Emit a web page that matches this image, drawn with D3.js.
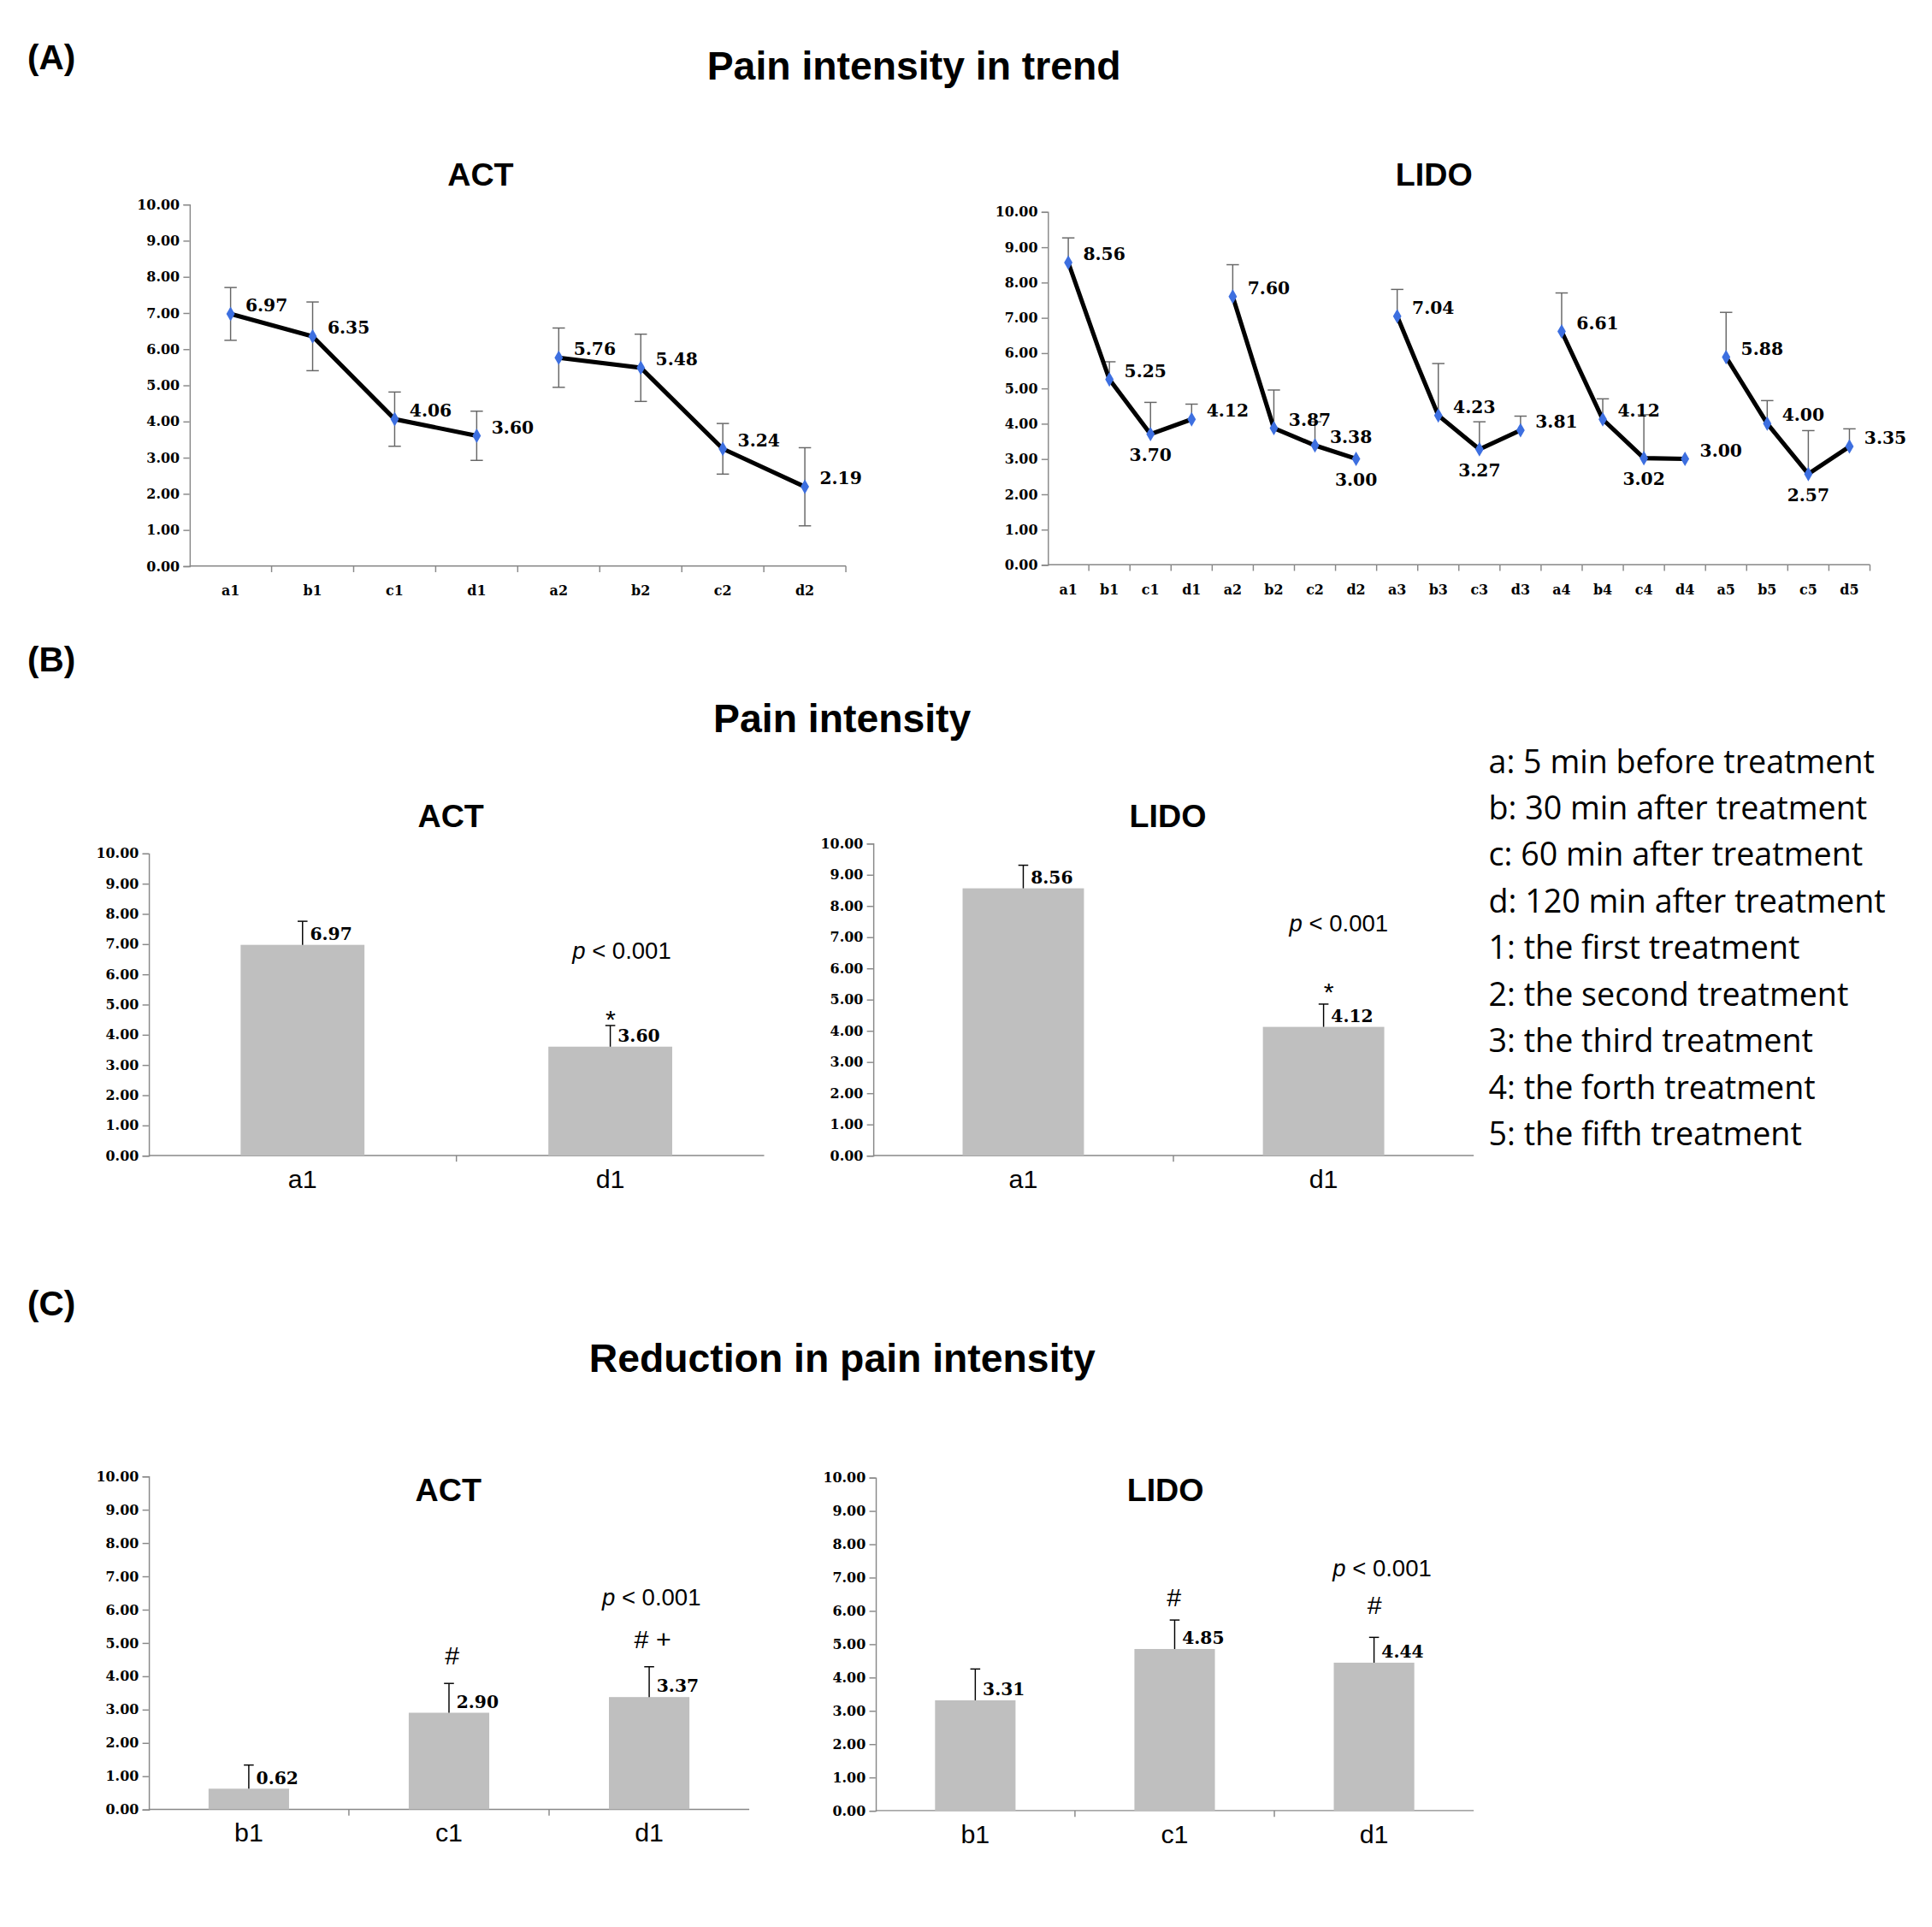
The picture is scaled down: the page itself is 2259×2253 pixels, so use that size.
<!doctype html>
<html><head><meta charset="utf-8">
<script src="https://cdnjs.cloudflare.com/ajax/libs/d3/7.8.5/d3.min.js"></script>
<style>
  body { margin: 0; background: #fff; }
  .tick-lab { font-family: "DejaVu Serif", serif; font-weight: bold; font-size: 11px; }
  .val { font-family: "DejaVu Serif", serif; font-weight: bold; font-size: 14px; }
  .cat { font-family: "Liberation Sans", Arial, sans-serif; font-size: 21px; }
  .title { font-family: "Liberation Sans", Arial, sans-serif; font-weight: bold; }
</style></head>
<body>
<script>
// --- data ---
const yTicks = [0,1,2,3,4,5,6,7,8,9,10]
const actTrendCats = ['a1','b1','c1','d1','a2','b2','c2','d2']
const actTrendVals = [6.97,6.35,4.06,3.60,5.76,5.48,3.24,2.19]
const actTrendErr  = [0.73,0.95,0.75,0.68,0.82,0.93,0.70,1.08]
const lidoTrendCats = ['a1','b1','c1','d1','a2','b2','c2','d2','a3','b3','c3','d3','a4','b4','c4','d4','a5','b5','c5','d5']
const lidoTrendVals = [8.56,5.25,3.70,4.12,7.60,3.87,3.38,3.00,7.04,4.23,3.27,3.81,6.61,4.12,3.02,3.00,5.88,4.00,2.57,3.35]
const lidoTrendErr  = [0.70,0.50,0.90,0.43,0.90,1.08,0.67,0.00,0.76,1.47,0.78,0.40,1.09,0.58,1.23,0.00,1.27,0.65,1.23,0.50]
const lidoLabelPos  = ['r','r','b','r','r','r','r','b','r','r','b','r','r','r','b','r','r','r','b','r']
const intenCats = ['a1','d1']
const actInten = [6.97,3.60], actIntenErr = [0.78,0.70]
const lidoInten = [8.56,4.12], lidoIntenErr = [0.74,0.73]
const redCats = ['b1','c1','d1']
const actRed = [0.62,2.90,3.37], actRedErr = [0.71,0.88,0.91]
const lidoRed = [3.31,4.85,4.44], lidoRedErr = [0.94,0.87,0.76]
const legendLines = ['a: 5 min before treatment','b: 30 min after treatment','c: 60 min after treatment','d: 120 min after treatment','1: the first treatment','2: the second treatment','3: the third treatment','4: the forth treatment','5: the fifth treatment']

const svg = d3.select('body').append('svg')
    .attr('width', 2259).attr('height', 2253)
    .attr('viewBox', '0 0 1560 1556')

function text(x, y, s, size, cls, anchor) {
  return svg.append('text').attr('x', x).attr('y', y).attr('class', cls)
    .attr('font-size', size).attr('text-anchor', anchor || 'middle').text(s)
}

function yAxis(x0, x1, y0, y1) {
  const y = d3.scaleLinear().domain([0, 10]).range([y0, y1])
  svg.append('g').attr('transform', `translate(${x0},0)`)
    .call(d3.axisLeft(y).tickValues(yTicks).tickSize(5).tickFormat(d3.format('.2f')))
    .call(g => g.select('.domain').attr('stroke', '#888'))
    .call(g => g.selectAll('line').attr('stroke', '#888'))
    .call(g => g.selectAll('text').attr('class', 'tick-lab').attr('fill', '#000').attr('font-size', null).attr('font-family', null))
  svg.append('line').attr('x1', x0).attr('x2', x1).attr('y1', y0).attr('y2', y0).attr('stroke', '#888')
  return y
}

function xTicks(x, y0, cats) {
  const step = x.step()
  cats.forEach(c => {
    const xx = x(c) + x.bandwidth() / 2 + step / 2
    svg.append('line').attr('x1', xx).attr('x2', xx).attr('y1', y0).attr('y2', y0 + 5).attr('stroke', '#888')
  })
}

function trend(x0, x1, y0, y1, cats, vals, errs, labelPos, twoSided, groupSize) {
  const y = yAxis(x0, x1, y0, y1)
  const x = d3.scaleBand().domain(cats).range([x0, x1])
  const cx = c => x(c) + x.bandwidth() / 2
  xTicks(x, y0, cats)
  cats.forEach(c => {
    svg.append('text').attr('class', 'tick-lab').attr('font-size', 14)
      .attr('x', cx(c)).attr('y', y0 + 24).attr('text-anchor', 'middle').text(c)
  })
  cats.forEach((c, i) => {
    if (!errs[i]) return
    const top = y(vals[i] + errs[i]), bot = twoSided ? y(vals[i] - errs[i]) : y(vals[i])
    const g = svg.append('g').attr('stroke', '#666')
    g.append('line').attr('x1', cx(c)).attr('x2', cx(c)).attr('y1', top).attr('y2', bot)
    g.append('line').attr('x1', cx(c) - 5).attr('x2', cx(c) + 5).attr('y1', top).attr('y2', top)
    if (twoSided) g.append('line').attr('x1', cx(c) - 5).attr('x2', cx(c) + 5).attr('y1', bot).attr('y2', bot)
  })
  const line = d3.line().x(d => cx(d.c)).y(d => y(d.v))
  for (let s = 0; s < cats.length; s += groupSize) {
    const pts = cats.slice(s, s + groupSize).map((c, k) => ({ c, v: vals[s + k] }))
    svg.append('path').attr('d', line(pts)).attr('fill', 'none').attr('stroke', '#000').attr('stroke-width', 3.5)
  }
  cats.forEach((c, i) => {
    svg.append('path').attr('d', d3.symbol(d3.symbolDiamond, 40)())
      .attr('transform', `translate(${cx(c)},${y(vals[i])})`).attr('fill', '#3d6fe0')
    const pos = labelPos ? labelPos[i] : 'r'
    if (pos === 'b') svg.append('text').attr('class', 'val').attr('x', cx(c)).attr('y', y(vals[i]) + 22).attr('text-anchor', 'middle').text(vals[i].toFixed(2))
    else svg.append('text').attr('class', 'val').attr('x', cx(c) + 12).attr('y', y(vals[i]) - 2).text(vals[i].toFixed(2))
  })
}

function bars(x0, x1, y0, y1, cats, vals, errs, barW) {
  const y = yAxis(x0, x1, y0, y1)
  const x = d3.scaleBand().domain(cats).range([x0, x1])
  const cx = c => x(c) + x.bandwidth() / 2
  xTicks(x, y0, cats.slice(0, -1))
  cats.forEach((c, i) => {
    svg.append('rect').attr('x', cx(c) - barW / 2).attr('width', barW)
      .attr('y', y(vals[i])).attr('height', y0 - y(vals[i])).attr('fill', '#bfbfbf')
    const top = y(vals[i] + errs[i])
    svg.append('line').attr('x1', cx(c)).attr('x2', cx(c)).attr('y1', top).attr('y2', y(vals[i])).attr('stroke', '#000')
    svg.append('line').attr('x1', cx(c) - 4).attr('x2', cx(c) + 4).attr('y1', top).attr('y2', top).attr('stroke', '#000')
    svg.append('text').attr('class', 'val').attr('x', cx(c) + 6).attr('y', y(vals[i]) - 4).text(vals[i].toFixed(2))
    text(cx(c), y0 + 26, c, 21, 'cat')
  })
}

// --- panel A ---
text(22, 56, '(A)', 28, 'title', 'start')
text(738, 64, 'Pain intensity in trend', 32, 'title')
text(388, 150, 'ACT', 26, 'title')
text(1158, 150, 'LIDO', 26, 'title')
trend(153, 683, 457, 165, actTrendCats, actTrendVals, actTrendErr, null, true, 4)
trend(846, 1510, 456, 171, lidoTrendCats, lidoTrendVals, lidoTrendErr, lidoLabelPos, false, 4)

// --- panel B ---
text(22, 542, '(B)', 28, 'title', 'start')
text(680, 591, 'Pain intensity', 32, 'title')
text(364, 668, 'ACT', 26, 'title')
text(943, 668, 'LIDO', 26, 'title')
bars(120, 617, 933, 689, intenCats, actInten, actIntenErr, 100)
bars(705, 1190, 933, 681, intenCats, lidoInten, lidoIntenErr, 98)
function pval(x, y) {
  const t = svg.append('text').attr('x', x).attr('y', y).attr('text-anchor', 'middle')
    .attr('font-family', 'Liberation Sans, Arial, sans-serif').attr('font-size', 19)
  t.append('tspan').attr('font-style', 'italic').text('p')
  t.append('tspan').text(' < 0.001')
}
pval(502, 774); text(493, 830, '*', 40, 'cat')
pval(1081, 752); text(1073, 808, '*', 40, 'cat')

legendLines.forEach((s, i) => {
  svg.append('text').attr('x', 1202).attr('y', 624 + i * 37.6)
    .attr('font-family', 'Open Sans, sans-serif').attr('font-size', 26).text(s)
})

// --- panel C ---
text(22, 1062, '(C)', 28, 'title', 'start')
text(680, 1108, 'Reduction in pain intensity', 32, 'title')
text(362, 1212, 'ACT', 26, 'title')
text(941, 1212, 'LIDO', 26, 'title')
bars(120, 605, 1461, 1192, redCats, actRed, actRedErr, 65)
bars(707, 1190, 1462, 1193, redCats, lidoRed, lidoRedErr, 65)
pval(526, 1296); text(365, 1344, '#', 24, 'cat'); text(527, 1331, '# +', 24, 'cat')
pval(1116, 1273); text(948, 1297, '#', 24, 'cat'); text(1110, 1303, '#', 24, 'cat')
</script>
</body></html>
